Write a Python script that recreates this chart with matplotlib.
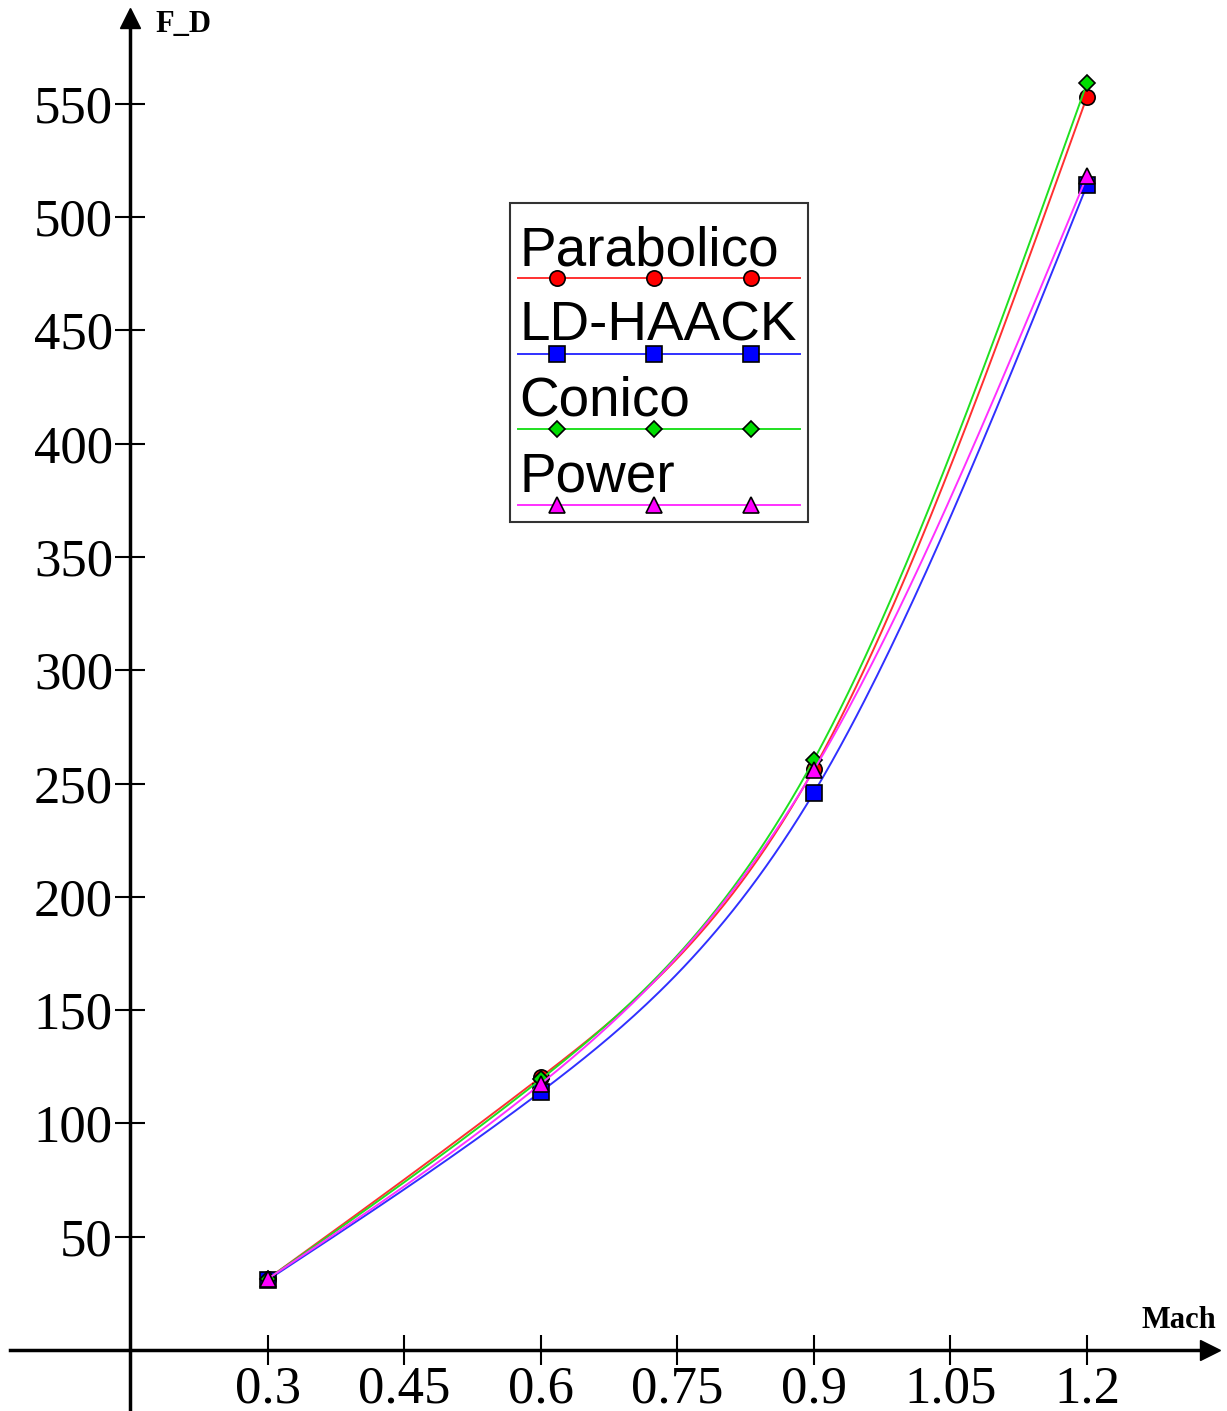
import numpy as np
import matplotlib.pyplot as plt
from matplotlib.lines import Line2D

# data
mach = [0.3, 0.6, 0.9, 1.2]
parabolico = [31.5, 120.5, 256.5, 553]
ld_haack = [31, 114, 246, 514]
conico = [31.5, 119.5, 260.5, 559]
power = [31.5, 117.5, 256, 518]

series = [
    ('Parabolico', parabolico, '#ff0000', '#ff3030', 'o', 11),
    ('LD-HAACK', ld_haack, '#0000ff', '#3030ff', 's', 11.5),
    ('Conico', conico, '#00dd00', '#20e020', 'D', 8),
    ('Power', power, '#ff00ff', '#ff30ff', '^', 11),
]

x_ticks = [0.3, 0.45, 0.6, 0.75, 0.9, 1.05, 1.2]
y_ticks = [50, 100, 150, 200, 250, 300, 350, 400, 450, 500, 550]


def natural_spline(x, y, n=200):
    # natural cubic spline through the points, only for a smooth drawn line
    x = np.asarray(x, float)
    y = np.asarray(y, float)
    k = len(x)
    h = np.diff(x)
    A = np.zeros((k, k))
    b = np.zeros(k)
    A[0, 0] = A[-1, -1] = 1
    for i in range(1, k - 1):
        A[i, i - 1] = h[i - 1]
        A[i, i] = 2 * (h[i - 1] + h[i])
        A[i, i + 1] = h[i]
        b[i] = 6 * ((y[i + 1] - y[i]) / h[i] - (y[i] - y[i - 1]) / h[i - 1])
    M = np.linalg.solve(A, b)
    xs = np.linspace(x[0], x[-1], n)
    idx = np.clip(np.searchsorted(x, xs) - 1, 0, k - 2)
    x0, x1 = x[idx], x[idx + 1]
    hh = x1 - x0
    t0, t1 = x1 - xs, xs - x0
    ys = (M[idx] * t0**3 + M[idx + 1] * t1**3) / (6 * hh) \
        + (y[idx] / hh - M[idx] * hh / 6) * t0 \
        + (y[idx + 1] / hh - M[idx + 1] * hh / 6) * t1
    return xs, ys


fig = plt.figure(figsize=(12.27, 14.11), dpi=100)
ax = fig.add_axes([0, 0, 1, 1])
ax.set_xlim(0.0055, 1.354)
ax.set_ylim(-26.9, 595.8)

x0_axis = 0.148
for name, vals, mcol, lcol, mk, ms in series:
    xs, ys = natural_spline(mach, vals)
    ax.plot(xs, ys, color=lcol, lw=1.4)
    ax.plot(mach, vals, linestyle='none', marker=mk, markersize=ms,
            markerfacecolor=mcol, markeredgecolor='black', markeredgewidth=1.2)

# axes through the origin with arrows
for s in ['top', 'right']:
    ax.spines[s].set_visible(False)
ax.spines['left'].set_position(('data', x0_axis))
ax.spines['bottom'].set_position(('data', 0))
ax.spines['left'].set_linewidth(2.5)
ax.spines['bottom'].set_linewidth(2.5)
ax.spines['left'].set_bounds(-26.9, 588)
ax.spines['bottom'].set_bounds(0.0165, 1.335)
ax.plot([x0_axis], [588], marker='^', markersize=14, color='black', clip_on=False)
ax.plot([1.335], [0], marker='>', markersize=14, color='black', clip_on=False)

ax.set_xticks(x_ticks)
ax.set_xticklabels([str(v) for v in x_ticks])
ax.set_yticks(y_ticks)
ax.tick_params(direction='inout', length=22, width=1.5, labelsize=38)
ax.tick_params(axis='x', pad=0)
ax.tick_params(axis='y', pad=1)
for lab in ax.get_xticklabels() + ax.get_yticklabels():
    lab.set_family('Liberation Serif')

ax.text(0.176, 585, 'F_D', family='Liberation Serif', weight='bold',
        fontsize=22, va='center', ha='left')
ax.text(1.342, 13, 'Mach', family='Liberation Serif', weight='bold',
        fontsize=22, va='center', ha='right')

# legend drawn by hand: label above a line with three markers
W, H = 1227, 1411
lx0, lx1, ly0, ly1 = 510, 808, 203, 522
box = plt.Rectangle((lx0 / W, 1 - ly1 / H), (lx1 - lx0) / W, (ly1 - ly0) / H,
                    transform=fig.transFigure, facecolor='white',
                    edgecolor='#333333', lw=1.5, zorder=5)
fig.patches.append(box)
for i, (name, vals, mcol, lcol, mk, ms) in enumerate(series):
    line_y = 278 + i * 75.5
    fig.text(519 / W, 1 - (line_y - 13) / H, name, family='Liberation Sans',
             fontsize=39.5, ha='left', va='baseline', zorder=6)
    fig.add_artist(Line2D([518 / W, 800 / W], [1 - line_y / H] * 2,
                          color=lcol, lw=1.4, zorder=6))
    fig.add_artist(Line2D([557 / W, 654 / W, 751 / W], [1 - line_y / H] * 3,
                          linestyle='none', marker=mk, markersize=ms,
                          markerfacecolor=mcol, markeredgecolor='black',
                          markeredgewidth=1.2, zorder=7))

fig.savefig('out.png', dpi=100)
